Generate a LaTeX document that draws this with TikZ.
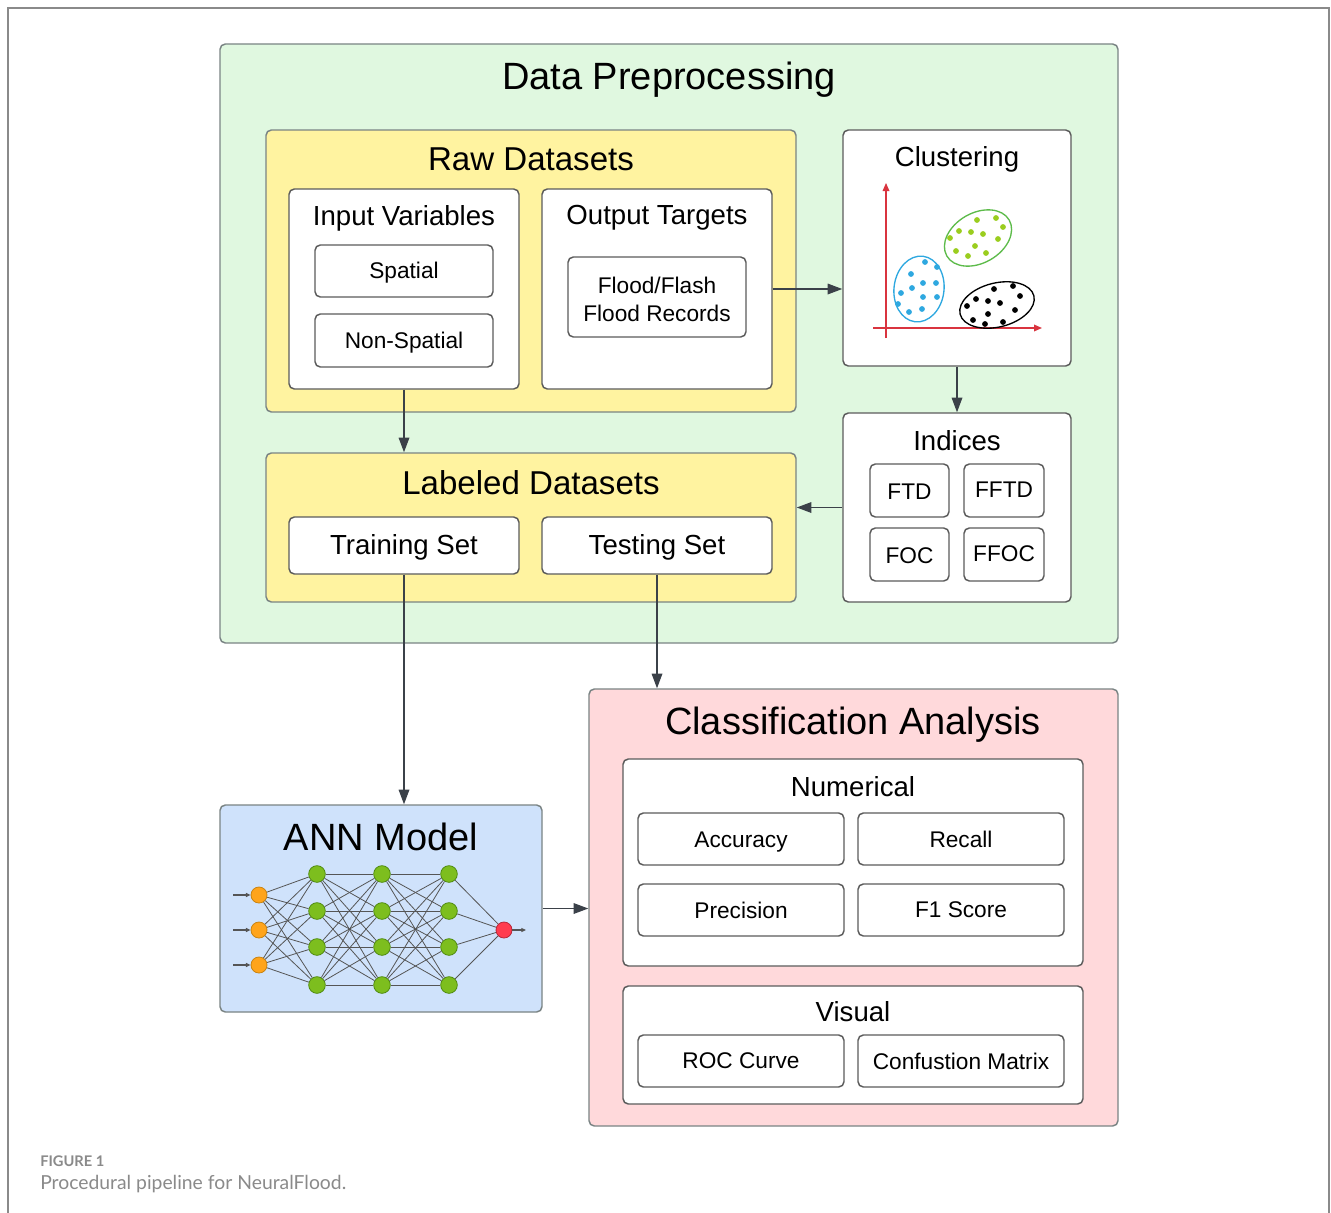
\documentclass[tikz,border=0pt]{standalone}
\usepackage{fontspec}
\setmainfont{Liberation Sans}
\newfontfamily\capfont{Lato}
\usetikzlibrary{fit,arrows.meta,calc}
\definecolor{dpgreen}{HTML}{E0F8E0}
\definecolor{rawyellow}{HTML}{FFF3A0}
\definecolor{annblue}{HTML}{CFE2FB}
\definecolor{clspink}{HTML}{FFD9DB}
\definecolor{bordergray}{HTML}{7A8484}
\definecolor{boxgray}{HTML}{5C5C5C}
\definecolor{arrowgray}{HTML}{3B4149}
\definecolor{framegray}{HTML}{8A8A8A}
\definecolor{capgray}{HTML}{8A8A8A}
\definecolor{axred}{HTML}{D9343F}
\definecolor{cblue}{HTML}{2EA8E0}
\definecolor{cgreen}{HTML}{5DBB4A}
\definecolor{cdotgreen}{HTML}{9ACD1E}
\definecolor{inorange}{HTML}{FFA41B}
\definecolor{inorangeb}{HTML}{C98310}
\definecolor{hgreen}{HTML}{7DBE1E}
\definecolor{hgreenb}{HTML}{4F8A10}
\definecolor{outred}{HTML}{FF3B4E}
\definecolor{outredb}{HTML}{B8283A}
\definecolor{netgray}{HTML}{555555}
\begin{document}
\begin{tikzpicture}[x=0.75pt,y=-0.75pt,
  container/.style={draw=bordergray, line width=1.1pt, rounded corners=4pt, inner sep=0pt},
  ibox/.style={draw=boxgray, fill=white, line width=1.1pt, rounded corners=4pt, inner sep=0pt},
  tA/.style={font=\fontsize{28.5}{34}\selectfont, inner sep=0pt},
  tB/.style={font=\fontsize{24.8}{30}\selectfont, inner sep=0pt},
  tC/.style={font=\fontsize{20.7}{25}\selectfont, inner sep=0pt},
  tD/.style={font=\fontsize{17}{21}\selectfont, inner sep=0pt},
  arr/.style={draw=arrowgray, line width=0.9pt, -{Triangle[length=11pt,width=8pt]}},
  smallarr/.style={draw=netgray, line width=0.8pt, -{Triangle[length=3.5pt,width=3pt]}},
  neuronin/.style={circle, minimum size=12pt, inner sep=0pt, fill=inorange, draw=inorangeb, line width=0.6pt},
  neuronh/.style={circle, minimum size=12.5pt, inner sep=0pt, fill=hgreen, draw=hgreenb, line width=0.6pt},
  neuronout/.style={circle, minimum size=12pt, inner sep=0pt, fill=outred, draw=outredb, line width=0.6pt},
  netline/.style={draw=netgray, line width=0.6pt}
]
\useasboundingbox (0,0) rectangle (1331,1213);
\fill[white] (0,0) rectangle (1331,1213);
\draw[framegray, line width=1.3pt] (8,1213) -- (8,8) -- (1329,8) -- (1329,1213);

% ---------- Data Preprocessing ----------
\node[container, fill=dpgreen, fit={(220,44) (1118,643)}] (dp) {};
\node[tA] (dpt) at (669,80) {Data Preprocessing};

\node[container, fill=rawyellow, fit={(266,130) (796,412)}] (raw) {};
\node[tB] (rawt) at (531,159) {Raw Datasets};

\node[ibox, fit={(289,189) (519,389)}] (inp) {};
\node[tC] (inpt) at (404,218) {Input Variables};
\node[ibox, fit={(315,245) (493,297)}] (sp) {};
\node[tD] at ($(sp.center)+(0,2)$) {Spatial};
\node[ibox, fit={(315,314) (493,367)}] (nsp) {};
\node[tD] at ($(nsp.center)+(0,2)$) {Non-Spatial};

\node[ibox, fit={(542,189) (772,389)}] (out) {};
\node[tC] (outt) at (657,218) {Output Targets};
\node[ibox, fit={(568,257) (746,337)}] (fl) {};
\node[tD, align=center] at ($(fl.center)+(0,2)$) {Flood/Flash\\Flood Records};

\node[ibox, fit={(843,130) (1071,366)}] (clu) {};
\node[tC] (clut) at (957,159) {Clustering};

\node[ibox, fit={(843,413) (1071,602)}] (ind) {};
\node[tC] (indt) at (957,441) {Indices};
\node[ibox, fit={(870,464) (949,517)}] (ftd) {};
\node[tD] at ($(ftd.center)+(0,1)$) {FTD};
\node[ibox, fit={(964,464) (1044,517)}] (fftd) {};
\node[tD] at ($(fftd.center)+(0,-1)$) {FFTD};
\node[ibox, fit={(870,528) (949,581)}] (foc) {};
\node[tD] at ($(foc.center)+(0,1)$) {FOC};
\node[ibox, fit={(964,528) (1044,581)}] (ffoc) {};
\node[tD] at ($(ffoc.center)+(0,-1)$) {FFOC};

\node[container, fill=rawyellow, fit={(266,453) (796,602)}] (lab) {};
\node[tB] (labt) at (531,483) {Labeled Datasets};
\node[ibox, fit={(289,517) (519,574)}] (tr) {};
\node[tC] at ($(tr.center)+(0,2)$) {Training Set};
\node[ibox, fit={(542,517) (772,574)}] (te) {};
\node[tC] at ($(te.center)+(0,2)$) {Testing Set};

% clustering plot
\draw[axred, line width=0.9pt, -{Triangle[length=6pt,width=5pt]}] (886,338) -- (886,183);
\draw[axred, line width=0.9pt, -{Triangle[length=6pt,width=5pt]}] (873,328) -- (1042,328);
\draw[cblue, line width=1pt, rotate around={-7:(919,289)}] (919,289) ellipse [x radius=25, y radius=33];
\draw[cgreen, line width=1pt, rotate around={30:(978,238)}] (978,238) ellipse [x radius=36, y radius=25];
\draw[black, line width=1pt, rotate around={14:(997,305)}] (997,305) ellipse [x radius=38, y radius=22];
\foreach \p in {(925,262),(937,267),(911,274),(923,283),(936,283),(912,288),(901,293),(923,297),(937,297),(898,304),(922,309),(909,312)}
  \fill[cblue] \p circle (2.9);
\foreach \p in {(977,220),(996,218),(959,231),(971,232),(983,234),(1003,227),(950,238),(998,239),(975,246),(956,251),(968,256),(986,253)}
  \fill[cdotgreen] \p circle (2.9);
\foreach \p in {(994,289),(1013,286),(1020,296),(976,299),(988,301),(1000,303),(967,306),(1015,310),(988,314),(973,320),(985,324),(1003,322)}
  \fill[black] \p circle (2.9);

% ---------- ANN Model ----------
\node[container, fill=annblue, fit={(220,805) (542,1012)}] (ann) {};
\node[tA] (annt) at (381,837) {ANN Model};
\foreach \i/\y in {1/895,2/930,3/965}
  \node[neuronin] (i\i) at (259,\y) {};
\foreach \l/\x in {a/317,b/382,c/449}
  \foreach \j/\y in {1/874,2/911,3/947,4/985}
    \node[neuronh] (\l\j) at (\x,\y) {};
\node[neuronout] (o) at (504,930) {};
\foreach \i in {1,2,3}
  \foreach \j in {1,2,3,4}
    \draw[netline] (i\i) -- (a\j);
\foreach \i in {1,2,3,4}
  \foreach \j in {1,2,3,4}
    {\draw[netline] (a\i) -- (b\j); \draw[netline] (b\i) -- (c\j);}
\foreach \j in {1,2,3,4}
  \draw[netline] (c\j) -- (o);
\foreach \i/\y in {1/895,2/930,3/965}
  {\coordinate (ia\i) at (233,\y); \draw[smallarr] (ia\i) -- (i\i);}
\coordinate (oa) at (526,930);
\draw[smallarr] (o) -- (oa);

% ---------- Classification Analysis ----------
\node[container, fill=clspink, fit={(589,689) (1118,1126)}] (cls) {};
\node[tA] (clst) at (853,725) {Classification Analysis};
\node[ibox, fit={(623,759) (1083,966)}] (num) {};
\node[tC] (numt) at (853,787) {Numerical};
\node[ibox, fit={(638,813) (844,865)}] (acc) {};
\node[tD] at ($(acc.center)+(0,3)$) {Accuracy};
\node[ibox, fit={(858,813) (1064,865)}] (rec) {};
\node[tD] at ($(rec.center)+(0,0)$) {Recall};
\node[ibox, fit={(638,884) (844,936)}] (pre) {};
\node[tD] at ($(pre.center)+(0,0)$) {Precision};
\node[ibox, fit={(858,884) (1064,936)}] (f1) {};
\node[tD] at ($(f1.center)+(0,0)$) {F1 Score};
\node[ibox, fit={(623,986) (1083,1104)}] (vis) {};
\node[tC] (vist) at (853,1012) {Visual};
\node[ibox, fit={(638,1035) (844,1087)}] (roc) {};
\node[tD] at ($(roc.center)+(0,0)$) {ROC Curve};
\node[ibox, fit={(858,1035) (1064,1087)}] (cm) {};
\node[tD] at ($(cm.center)+(0,0)$) {Confustion Matrix};

% ---------- connectors ----------
\draw[arr] (inp.south) -- (inp.south |- lab.north);
\draw[arr] (out.east) -- (out.east -| clu.west);
\draw[arr] (clu.south) -- (ind.north);
\draw[arr] (ind.west) -- (ind.west -| lab.east);
\draw[arr] (tr.south) -- (tr.south |- ann.north);
\draw[arr] (te.south) -- (te.south |- cls.north);
\draw[arr] (ann.east) -- (ann.east -| cls.west);

% ---------- caption ----------
\node[anchor=west, inner sep=0pt, text=capgray, font=\capfont\bfseries\fontsize{11}{13}\selectfont] (figl) at (40,1161) {FIGURE 1};
\node[anchor=west, inner sep=0pt, text=capgray, font=\capfont\fontsize{14.5}{17}\selectfont] (figc) at (40,1184) {Procedural pipeline for NeuralFlood.};
\end{tikzpicture}
\end{document}
